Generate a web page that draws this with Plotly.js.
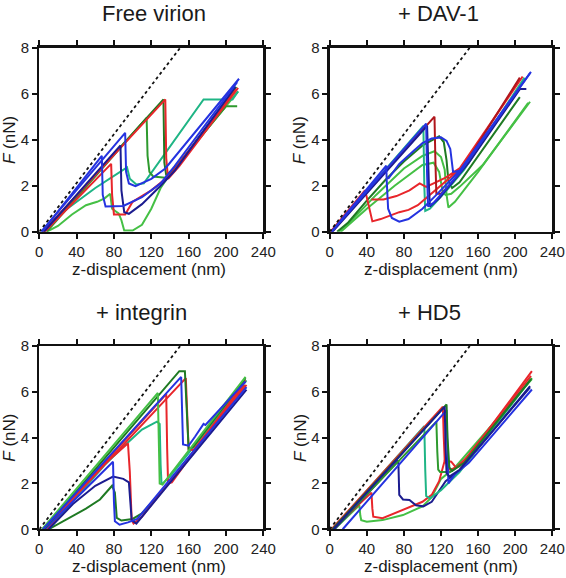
<!DOCTYPE html>
<html>
<head>
<meta charset="utf-8">
<script src="https://cdn.plot.ly/plotly-3.0.1.min.js"></script>
<style>html,body{margin:0;padding:0;background:#fff;}#chart{width:566px;height:578px;}</style>
</head>
<body>
<div id="chart"></div>
<script>
// ---------- reference line ----------
const dot_x = [0, 151];
const dot_y = [0, 8];

// ---------- Free virion ----------
const fv_blue_x = [3, 67, 68, 71, 90, 110, 130, 145, 212];
const fv_blue_y = [0, 3.3, 1.6, 1.1, 1.12, 1.5, 2.1, 2.85, 6.5];
const fv_blue2_x = [2, 92, 93, 96, 103, 120, 135, 214];
const fv_blue2_y = [0, 4.3, 2.6, 2.1, 1.98, 2.3, 2.75, 6.65];
const fv_navy_x = [5, 87, 88, 91, 96, 110, 130, 145, 210];
const fv_navy_y = [0, 3.75, 1.8, 0.85, 0.78, 1.2, 2.0, 2.65, 6.3];
const fv_red_x = [6, 77, 78, 80, 92, 100, 120, 140, 211];
const fv_red_y = [0, 2.95, 1.6, 0.75, 0.75, 1.3, 1.8, 2.45, 6.2];
const fv_red2_x = [4, 135, 136, 138, 150, 213];
const fv_red2_y = [0, 5.75, 3.2, 2.3, 2.85, 6.25];
const fv_dkgreen_x = [5, 133, 134, 136, 150, 211];
const fv_dkgreen_y = [0, 5.75, 3.0, 2.45, 2.95, 6.3];
const fv_green_x = [8, 115, 116, 118, 122, 135, 145, 200, 212];
const fv_green_y = [0, 4.95, 3.3, 2.6, 2.4, 2.35, 2.75, 5.45, 5.45];
const fv_ltgreen_x = [8, 20, 35, 50, 62, 70, 76, 78, 85, 88, 91, 100, 110, 120, 130, 140, 213];
const fv_ltgreen_y = [0, 0.25, 0.75, 1.15, 1.3, 1.45, 1.65, 1.0, 0.8, 0.5, 0.05, 0.05, 0.3, 1.0, 1.9, 2.5, 6.1];
const fv_teal_x = [3, 30, 60, 80, 94, 97, 104, 112, 176, 207, 213];
const fv_teal_y = [0, 1.0, 1.9, 2.45, 2.8, 2.3, 2.05, 2.1, 5.75, 5.75, 6.1];

// ---------- + DAV-1 ----------
const dv_red_x = [1, 38, 40, 43, 46, 55, 65, 75, 85, 95, 105, 120, 140, 208, 140, 125, 112, 104, 97, 86, 72, 58, 45];
const dv_red_y = [0, 1.8, 1.5, 0.9, 0.45, 0.55, 0.7, 0.85, 0.95, 1.15, 1.5, 2.0, 2.7, 6.75, 2.75, 2.35, 2.1, 1.95, 2.1, 1.8, 1.55, 1.4, 1.4];
const dv_dkred_x = [2, 113, 114, 115, 120, 130, 140, 205];
const dv_dkred_y = [0, 5.0, 3.0, 1.65, 1.65, 2.05, 2.55, 6.7];
const dv_blue_x = [2, 61, 61.5, 63, 67, 75, 85, 100, 115, 130, 140, 216, 140, 133, 132, 130, 126, 120, 110, 100, 90, 75, 63];
const dv_blue_y = [0, 2.87, 2.2, 1.0, 0.6, 0.44, 0.55, 1.0, 1.6, 2.25, 2.65, 6.9, 2.65, 2.6, 3.0, 3.6, 3.95, 4.1, 4.05, 3.85, 3.5, 2.95, 2.3];
const dv_blue2_x = [2, 104, 105, 106, 112, 125, 140, 217];
const dv_blue2_y = [0, 4.7, 2.5, 1.1, 1.25, 1.85, 2.55, 6.95];
const dv_navy_x = [3, 105, 107, 108, 118, 135, 150, 205, 212];
const dv_navy_y = [0, 4.6, 2.0, 1.1, 1.45, 2.3, 3.0, 6.2, 6.2];
const dv_teal_x = [2, 101, 102, 103, 108, 125, 145, 210];
const dv_teal_y = [0, 4.6, 2.0, 0.9, 1.0, 1.75, 2.7, 6.7];
const dv_dkgreen_x = [8, 20, 40, 60, 80, 100, 118, 123, 126, 128, 132, 140, 205];
const dv_dkgreen_y = [0, 0.4, 1.35, 2.25, 3.05, 3.75, 4.15, 3.9, 3.1, 2.2, 1.9, 2.15, 5.85];
const dv_green_x = [10, 25, 50, 80, 100, 113, 120, 124, 126, 128, 135, 160, 214];
const dv_green_y = [0, 0.55, 1.6, 2.75, 3.3, 3.5, 3.25, 2.7, 1.6, 1.05, 1.3, 2.6, 5.6];
const dv_green2_x = [12, 40, 70, 100, 112, 118, 122, 125, 131, 140, 165, 216];
const dv_green2_y = [0, 1.0, 2.0, 2.9, 3.0, 2.6, 1.7, 1.6, 1.65, 1.95, 2.9, 5.65];

// ---------- + integrin ----------
const it_dkgreen_x = [5, 150, 156, 158, 160, 165, 221];
const it_dkgreen_y = [0, 6.9, 6.9, 5.0, 3.5, 3.6, 6.6];
const it_dkgreen2_x = [10, 30, 50, 65, 75, 78, 81, 83, 88, 100, 110, 130, 221];
const it_dkgreen2_y = [0, 0.45, 0.9, 1.3, 1.75, 1.9, 1.6, 0.5, 0.38, 0.45, 0.7, 1.6, 6.2];
const it_blue_x = [4, 152, 154, 160, 167, 176, 178, 221];
const it_blue_y = [0, 6.65, 3.7, 3.65, 4.05, 4.6, 4.55, 6.45];
const it_red_x = [6, 136, 137, 138, 142, 221];
const it_red_y = [0, 5.9, 3.5, 2.0, 2.05, 6.5];
const it_red2_x = [5, 157, 159, 160, 165, 220];
const it_red2_y = [0, 6.6, 4.5, 3.5, 3.45, 6.3];
const it_red3_x = [8, 40, 70, 95, 97, 99, 101, 110, 222];
const it_red3_y = [0, 1.5, 2.85, 3.75, 2.5, 0.4, 0.25, 0.55, 6.3];
const it_teal_x = [10, 40, 70, 90, 110, 126, 129, 130, 131, 140, 222];
const it_teal_y = [0, 1.4, 2.8, 3.6, 4.35, 4.7, 4.6, 2.8, 1.95, 2.3, 6.5];
const it_green_x = [3, 127, 128, 129, 132, 221];
const it_green_y = [0, 5.95, 4.0, 2.0, 1.95, 6.65];
const it_blue2_x = [6, 79, 80, 81, 86, 95, 105, 222];
const it_blue2_y = [0, 2.95, 1.2, 0.35, 0.2, 0.3, 0.45, 6.2];
const it_navy_x = [10, 36, 60, 79, 90, 96, 99, 104, 222];
const it_navy_y = [0, 1.1, 1.9, 2.3, 2.2, 2.05, 0.4, 0.25, 6.1];

// ---------- + HD5 ----------
const hd_navy_x = [4, 124, 125, 126, 129, 140, 216];
const hd_navy_y = [0, 5.35, 3.5, 2.45, 2.3, 2.6, 6.2];
const hd_blue_x = [14, 126, 127, 128, 135, 150, 218];
const hd_blue_y = [0, 5.2, 3.5, 2.0, 2.4, 2.9, 6.1];
const hd_red_x = [3, 45, 46, 47, 57, 70, 79, 90, 100, 110, 118, 124, 131, 136, 150, 218];
const hd_red_y = [0, 1.6, 0.9, 0.55, 0.48, 0.7, 0.85, 1.05, 1.2, 1.5, 2.1, 3.0, 2.95, 2.7, 3.2, 6.9];
const hd_red2_x = [2, 122, 123, 124, 130, 140, 217];
const hd_red2_y = [0, 5.35, 4.0, 3.0, 2.6, 2.75, 6.7];
const hd_navy2_x = [5, 74, 75, 79, 86, 93, 101, 110, 125, 140, 216];
const hd_navy2_y = [0, 3.0, 1.5, 1.3, 1.28, 1.05, 1.0, 1.2, 2.1, 2.55, 6.25];
const hd_teal_x = [3, 102, 103, 104, 108, 120, 140, 216];
const hd_teal_y = [0, 4.5, 2.6, 1.45, 1.35, 1.7, 2.5, 6.5];
const hd_green_x = [4, 115, 116, 117, 119, 130, 145, 218];
const hd_green_y = [0, 4.7, 3.4, 2.6, 2.5, 2.5, 2.95, 6.6];
const hd_dkgreen_x = [3, 126, 127, 129, 132, 145, 217];
const hd_dkgreen_y = [0, 5.45, 4.0, 2.7, 2.55, 2.9, 6.55];
const hd_ltgreen_x = [5, 32, 33, 34, 40, 57, 79, 100, 110, 120, 135, 218];
const hd_ltgreen_y = [0, 1.05, 0.6, 0.4, 0.33, 0.4, 0.62, 1.0, 1.4, 2.2, 2.7, 6.55];

// ---------- labels ----------
const panel_titles = ['Free virion', '+ DAV-1', '+ integrin', '+ HD5'];
const x_title = 'z-displacement (nm)';
const y_title = '<i>F</i> (nN)';
const x_ticks = [0, 40, 80, 120, 160, 200, 240];
const y_ticks = [0, 2, 4, 6, 8];

const COL = {
  red: '#e8262b', dkred: '#b0161c', blue: '#2533e0', navy: '#1c1c8f',
  green: '#2e9a2e', ltgreen: '#45c045', dkgreen: '#1f7a23', teal: '#1fb585'
};

const panels = [
  {xa: 'x', ya: 'y', curves: [
    [fv_ltgreen_x, fv_ltgreen_y, COL.ltgreen], [fv_teal_x, fv_teal_y, COL.teal],
    [fv_green_x, fv_green_y, COL.green], [fv_dkgreen_x, fv_dkgreen_y, COL.dkgreen],
    [fv_red_x, fv_red_y, COL.red], [fv_red2_x, fv_red2_y, COL.red],
    [fv_navy_x, fv_navy_y, COL.navy], [fv_blue_x, fv_blue_y, COL.blue], [fv_blue2_x, fv_blue2_y, COL.blue]]},
  {xa: 'x2', ya: 'y2', curves: [
    [dv_green2_x, dv_green2_y, COL.ltgreen], [dv_green_x, dv_green_y, COL.ltgreen],
    [dv_dkgreen_x, dv_dkgreen_y, COL.dkgreen], [dv_teal_x, dv_teal_y, COL.teal],
    [dv_red_x, dv_red_y, COL.red], [dv_dkred_x, dv_dkred_y, COL.dkred],
    [dv_navy_x, dv_navy_y, COL.navy], [dv_blue2_x, dv_blue2_y, COL.blue], [dv_blue_x, dv_blue_y, COL.blue]]},
  {xa: 'x3', ya: 'y3', curves: [
    [it_dkgreen2_x, it_dkgreen2_y, COL.dkgreen], [it_teal_x, it_teal_y, COL.teal],
    [it_red3_x, it_red3_y, COL.red], [it_red_x, it_red_y, COL.red], [it_red2_x, it_red2_y, COL.red],
    [it_navy_x, it_navy_y, COL.navy], [it_blue2_x, it_blue2_y, COL.blue],
    [it_dkgreen_x, it_dkgreen_y, COL.dkgreen], [it_green_x, it_green_y, COL.ltgreen], [it_blue_x, it_blue_y, COL.blue]]},
  {xa: 'x4', ya: 'y4', curves: [
    [hd_ltgreen_x, hd_ltgreen_y, COL.ltgreen], [hd_red_x, hd_red_y, COL.red],
    [hd_navy2_x, hd_navy2_y, COL.navy], [hd_teal_x, hd_teal_y, COL.teal],
    [hd_green_x, hd_green_y, COL.green], [hd_red2_x, hd_red2_y, COL.red],
    [hd_blue_x, hd_blue_y, COL.blue], [hd_dkgreen_x, hd_dkgreen_y, COL.dkgreen], [hd_navy_x, hd_navy_y, COL.navy]]}
];

const traces = [];
panels.forEach(p => {
  p.curves.forEach(c => {
    traces.push({x: c[0], y: c[1], xaxis: p.xa, yaxis: p.ya, type: 'scatter', mode: 'lines',
      line: {color: c[2], width: 2}, hoverinfo: 'skip', showlegend: false});
  });
  traces.push({x: dot_x, y: dot_y, xaxis: p.xa, yaxis: p.ya, type: 'scatter', mode: 'lines',
    line: {color: '#111', width: 1.8, dash: 'dot'}, hoverinfo: 'skip', showlegend: false});
});

const FONT = 'Liberation Sans, Arial, sans-serif';
function xax(domain, anchor) {
  return {domain: domain, anchor: anchor, range: [0, 240], tickvals: x_ticks, ticktext: x_ticks.map(String),
    ticks: 'outside', ticklen: 5, tickwidth: 2, tickcolor: '#111', showline: true, linewidth: 2.2, linecolor: '#111',
    mirror: 'ticks', showgrid: false, zeroline: false, tickfont: {family: FONT, size: 15, color: '#222'}};
}
function yax(domain, anchor) {
  return {domain: domain, anchor: anchor, range: [0, 8], tickvals: y_ticks, ticktext: y_ticks.map(String),
    ticks: 'outside', ticklen: 5, tickwidth: 2, tickcolor: '#111', showline: true, linewidth: 2.2, linecolor: '#111',
    mirror: 'ticks', showgrid: false, zeroline: false, tickfont: {family: FONT, size: 15, color: '#222'}};
}
const XL = [0.0694, 0.4652], XR = [0.5825, 0.9758];
const YT = [0.5991, 0.9175], YB = [0.0843, 0.4014];

const ann = [];
const titlePos = [[0.2717, 0.977], [0.7739, 0.977], [0.2504, 0.4602], [0.758, 0.4602]];
panel_titles.forEach((t, i) => ann.push({text: t, xref: 'paper', yref: 'paper', x: titlePos[i][0], y: titlePos[i][1],
  xanchor: 'center', yanchor: 'middle', showarrow: false, font: {family: FONT, size: 22, color: '#1a1a1a'}}));
[[0.2633, 0.5346], [0.7783, 0.5346], [0.2633, 0.0197], [0.7783, 0.0197]].forEach(p => ann.push({text: x_title,
  xref: 'paper', yref: 'paper', x: p[0], y: p[1], xanchor: 'center', yanchor: 'middle', showarrow: false,
  font: {family: FONT, size: 17, color: '#1a1a1a'}}));
[[0.0177, 0.7578], [0.5307, 0.7578], [0.0177, 0.2427], [0.5307, 0.2427]].forEach(p => ann.push({text: y_title,
  xref: 'paper', yref: 'paper', x: p[0], y: p[1], xanchor: 'center', yanchor: 'middle', textangle: -90, showarrow: false,
  font: {family: FONT, size: 17, color: '#1a1a1a'}}));

const layout = {
  width: 566, height: 578, margin: {l: 0, r: 0, t: 0, b: 0}, paper_bgcolor: '#fff', plot_bgcolor: '#fff',
  showlegend: false,
  xaxis: xax(XL, 'y'), yaxis: yax(YT, 'x'),
  xaxis2: xax(XR, 'y2'), yaxis2: yax(YT, 'x2'),
  xaxis3: xax(XL, 'y3'), yaxis3: yax(YB, 'x3'),
  xaxis4: xax(XR, 'y4'), yaxis4: yax(YB, 'x4'),
  annotations: ann
};
Plotly.newPlot('chart', traces, layout, {displayModeBar: false, staticPlot: true});
</script>
</body>
</html>
